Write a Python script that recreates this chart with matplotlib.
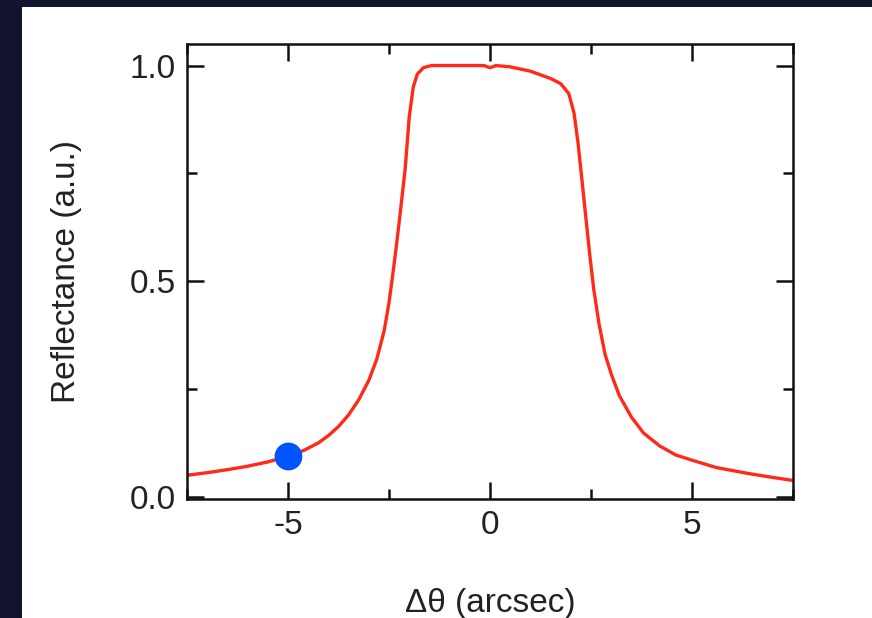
import numpy as np
import matplotlib
matplotlib.use("Agg")
import matplotlib.pyplot as plt
from matplotlib.patches import Rectangle
from matplotlib.ticker import MultipleLocator

plt.rcParams['font.family'] = ['Liberation Sans', 'DejaVu Sans']

# reflectance curve
dtheta = [-7.5, -7.0, -6.5, -6.0, -5.5, -5.0, -4.6, -4.25, -4.0, -3.75, -3.5,
          -3.25, -3.0, -2.8, -2.62, -2.5, -2.4, -2.32, -2.22, -2.1, -2.0,
          -1.9, -1.8, -1.65, -1.45, -1.0, -0.5, -0.15, 0.0, 0.15, 0.5, 1.0,
          1.5, 1.75, 1.95, 2.08, 2.18, 2.27, 2.37, 2.47, 2.57, 2.7, 2.85, 3.0,
          3.2, 3.5, 3.8, 4.2, 4.6, 5.0, 5.6, 6.4, 7.0, 7.5]
refl = [0.05, 0.056, 0.063, 0.071, 0.081, 0.094, 0.108, 0.125, 0.142, 0.163, 0.19,
        0.225, 0.27, 0.32, 0.385, 0.45, 0.52, 0.58, 0.66, 0.76, 0.88,
        0.95, 0.98, 0.995, 1.0, 1.0, 1.0, 1.0, 0.995, 1.0, 0.997, 0.987,
        0.97, 0.958, 0.935, 0.89, 0.82, 0.74, 0.65, 0.56, 0.48, 0.4, 0.33, 0.285,
        0.235, 0.185, 0.148, 0.118, 0.097, 0.085, 0.068, 0.054, 0.045, 0.038]

# highlighted point
dot_x = [-5.0]
dot_y = [0.094]

fig = plt.figure(figsize=(8.72, 6.18), dpi=100)
fig.patch.set_facecolor('#12142e')
# white slide panel
fig.add_artist(Rectangle((22 / 872, 0), 1, (618 - 7) / 618,
                         transform=fig.transFigure, facecolor='white',
                         edgecolor='none', zorder=0))

ax = fig.add_axes([187 / 872, 119 / 618, 606 / 872, 455 / 618])
ax.plot(dtheta, refl, color='#ff2a1a', lw=2.4, zorder=2, solid_joinstyle='round')
ax.plot(dot_x, dot_y, 'o', color='#0055ff', ms=19, zorder=3)

ax.set_xlim(-7.5, 7.5)
ax.set_ylim(-0.005, 1.05)
ax.set_xticks([-5, 0, 5])
ax.set_xticklabels(['-5', '0', '5'])
ax.set_yticks([0.0, 0.5, 1.0])
ax.set_yticklabels(['0.0', '0.5', '1.0'])
ax.xaxis.set_minor_locator(MultipleLocator(2.5))
ax.yaxis.set_minor_locator(MultipleLocator(0.25))
ax.tick_params(which='both', direction='in', top=True, right=True,
               width=1.8, color='#111111', labelsize=24, pad=8,
               labelcolor='#222222')
ax.tick_params(which='major', length=12)
ax.tick_params(which='minor', length=7)
for s in ax.spines.values():
    s.set_linewidth(1.8)
    s.set_color('#111111')

ax.set_xlabel('Δθ (arcsec)', fontsize=24, labelpad=34, color='#222222')
ax.set_ylabel('Reflectance (a.u.)', fontsize=24, labelpad=34, color='#222222')

fig.savefig('out.png', dpi=100, facecolor=fig.get_facecolor())
